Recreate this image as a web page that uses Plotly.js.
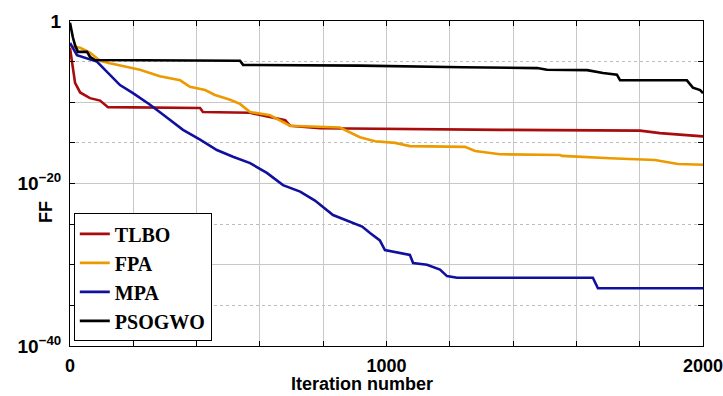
<!DOCTYPE html>
<html>
<head>
<meta charset="utf-8">
<script src="https://cdn.plot.ly/plotly-3.0.1.min.js"></script>
<style>html,body{margin:0;padding:0;background:#fff}#chart{width:723px;height:396px}</style>
</head>
<body>
<div id="chart"></div>
<script>
// Iteration numbers and fitness function (FF) values
const tlboIter = [0, 6, 16, 32, 63, 95, 120, 411, 420, 569, 680, 695, 790, 1359, 1801, 1864, 2000];
const tlboFF   = [5.0e-4, 1e-5, 2.5e-8, 1.6e-9, 3.2e-10, 1.6e-10, 2.5e-11, 2.0e-11, 6.3e-12, 5.0e-12, 6.3e-13, 1.3e-13, 6.3e-14, 4.0e-14, 3.2e-14, 1.6e-14, 6.3e-15];

const fpaIter = [0, 32, 63, 95, 126, 221, 284, 348, 379, 427, 458, 506, 537, 569, 632, 695, 853, 916, 964, 1027, 1074, 1248, 1280, 1359, 1548, 1555, 1706, 1848, 1921, 2000];
const fpaFF   = [7.9e-4, 5.0e-4, 1.3e-4, 1.3e-5, 6.3e-6, 1e-6, 1.6e-7, 5.0e-8, 7.9e-9, 3.2e-9, 7.9e-10, 2.0e-10, 6.3e-11, 6.3e-12, 2.5e-12, 1.3e-13, 7.9e-14, 5.0e-15, 1.6e-15, 1e-15, 4.0e-16, 3.2e-16, 1e-16, 4.0e-17, 3.2e-17, 2.5e-17, 1.3e-17, 7.9e-18, 2.5e-18, 2.0e-18];

const mpaIter = [0, 22, 85, 126, 158, 199, 253, 306, 357, 411, 464, 515, 569, 622, 673, 727, 774, 831, 885, 923, 948, 979, 995, 1074, 1084, 1128, 1169, 1191, 1223, 1652, 1668, 2000];
const mpaFF   = [2.0e-3, 6.3e-5, 1e-5, 2.5e-7, 1.3e-8, 1.3e-9, 5.0e-11, 1.3e-12, 4.0e-14, 2.5e-15, 1.3e-16, 2.0e-17, 3.2e-18, 2.0e-19, 6.3e-21, 1e-21, 7.9e-23, 1.3e-24, 2.0e-25, 5.0e-26, 7.9e-27, 1e-27, 6.3e-29, 1.6e-29, 1.6e-30, 1e-30, 2.5e-31, 4.0e-32, 2.5e-32, 2.5e-32, 1.3e-33, 1.3e-33];

const psoIter = [0, 3, 9, 16, 25, 54, 63, 79, 537, 547, 916, 1242, 1476, 1507, 1634, 1684, 1728, 1738, 1949, 1968, 1991, 2000];
const psoFF   = [0.63, 0.1, 0.01, 1e-3, 1.6e-4, 1.6e-4, 4.0e-5, 1.6e-5, 1.3e-5, 4.0e-6, 3.2e-6, 2.0e-6, 1.6e-6, 1e-6, 8.9e-7, 4.0e-7, 2.5e-7, 5.0e-8, 5.0e-8, 6.3e-9, 3.2e-9, 1.3e-9];

const seriesNames = ['TLBO', 'FPA', 'MPA', 'PSOGWO'];

const xTickVals = [0, 200, 400, 600, 800, 1000, 1200, 1400, 1600, 1800, 2000];
const xTickText = ['0', '', '', '', '', '1000', '', '', '', '', '2000'];
const yTickVals = [1, 1e-10, 1e-20, 1e-30, 1e-40];
const yTickText = ['1', '', '10<sup>\u221220</sup>', '', '10<sup>\u221240</sup>'];
const yMinorVals = [1e-5, 1e-15, 1e-25, 1e-35];
const xTitle = 'Iteration number';
const yTitle = 'FF';

const colors = ['#a80c0c', '#ec9a00', '#10109e', '#000000'];
const xs = [tlboIter, fpaIter, mpaIter, psoIter];
const ys = [tlboFF, fpaFF, mpaFF, psoFF];

const traces = seriesNames.map((n, i) => ({
  x: xs[i], y: ys[i], name: n, type: 'scatter', mode: 'lines',
  line: {color: colors[i], width: 2.6}
}));

const sansBold = {family: 'Liberation Sans, Arial, sans-serif', size: 18, color: '#000', weight: 'bold'};

const layout = {
  width: 723, height: 396,
  margin: {l: 70, r: 20, t: 21, b: 50},
  paper_bgcolor: '#fff', plot_bgcolor: '#fff',
  showlegend: true,
  legend: {
    x: 0.006, y: 0.408, xanchor: 'left', yanchor: 'top',
    bgcolor: '#fff', bordercolor: '#000', borderwidth: 1,
    font: {family: 'Liberation Serif, Times New Roman, serif', size: 20, color: '#000', weight: 'bold'},
    tracegroupgap: 0
  },
  xaxis: {
    range: [0, 2000], tickmode: 'array', tickvals: xTickVals, ticktext: xTickText,
    ticks: 'inside', ticklen: 5, tickcolor: '#000', mirror: 'ticks',
    showline: true, linecolor: '#000', linewidth: 1,
    showgrid: true, gridcolor: '#c8c8c8', gridwidth: 1, zeroline: false,
    tickfont: sansBold, ticklabelstandoff: 3, ticklabeloverflow: 'allow'
  },
  yaxis: {
    type: 'log', range: [-40, 0], tickmode: 'array', tickvals: yTickVals, ticktext: yTickText,
    ticks: 'inside', ticklen: 5, tickcolor: '#000', mirror: 'ticks',
    showline: true, linecolor: '#000', linewidth: 1,
    showgrid: true, gridcolor: '#c8c8c8', gridwidth: 1, zeroline: false,
    tickfont: Object.assign({}, sansBold, {size: 19}), ticklabelstandoff: 4, ticklabeloverflow: 'allow',
    minor: {tickmode: 'array', tickvals: yMinorVals, ticks: 'inside', ticklen: 5, tickcolor: '#000',
            showgrid: true, gridcolor: '#bdbdbd', griddash: 'dot', gridwidth: 1}
  },
  annotations: [
    {text: xTitle, xref: 'paper', yref: 'paper', x: 0.461, y: -0.152, xanchor: 'center', yanchor: 'bottom',
     showarrow: false, font: sansBold, borderpad: 0},
    {text: yTitle, xref: 'paper', yref: 'paper', x: -0.038, y: 0.412, xanchor: 'center', yanchor: 'middle',
     textangle: -90, showarrow: false, font: sansBold}
  ]
};

Plotly.newPlot('chart', traces, layout, {displayModeBar: false, staticPlot: true});
</script>
</body>
</html>
